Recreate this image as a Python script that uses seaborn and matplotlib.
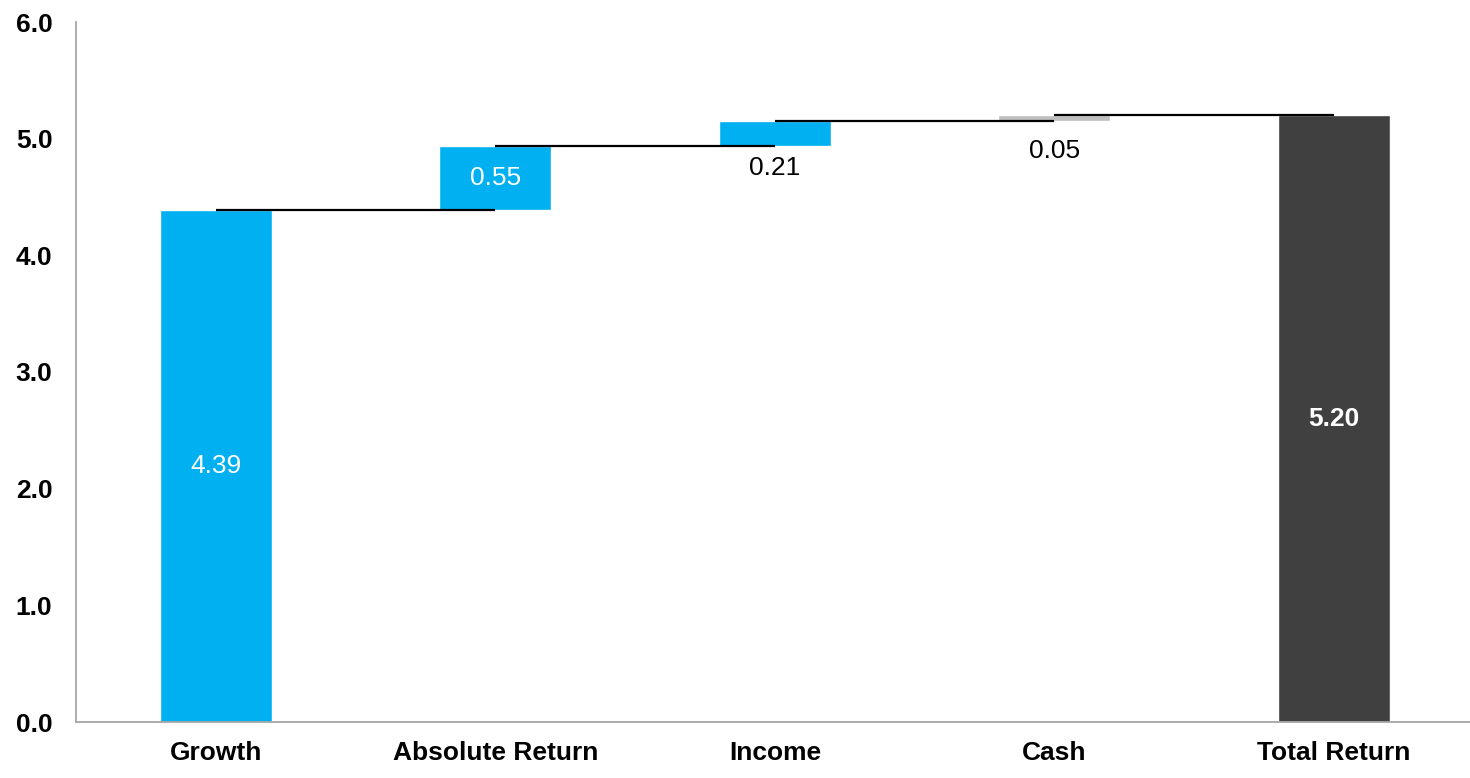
import matplotlib
matplotlib.use("Agg")
import matplotlib.pyplot as plt
import seaborn as sns
import numpy as np

# Contribution to total return by asset class
categories = ["Growth", "Absolute Return", "Income", "Cash", "Total Return"]
contributions = [4.39, 0.55, 0.21, 0.05]
total_return = 5.20
label_texts = ["4.39", "0.55", "0.21", "0.05", "5.20"]

BLUE = "#00B0F0"
GREY = "#BFBFBF"
DARK = "#404040"

sns.set_theme(style="white")
plt.rcParams["font.family"] = ["Liberation Sans", "DejaVu Sans"]

fig = plt.figure(figsize=(14.7, 7.78), dpi=100)
ax = fig.add_axes([76 / 1470, 1 - 722 / 778, 1 - 76 / 1470, (722 - 22) / 778])

bases = [0.0] + list(np.cumsum(contributions)[:-1])
heights = contributions + [total_return]
bottoms = bases + [0.0]
colors = [BLUE, BLUE, BLUE, GREY, DARK]

for cat, h, b, c in zip(categories, heights, bottoms, colors):
    sns.barplot(x=[cat], y=[h], order=categories, color=c, bottom=b,
                width=0.4, errorbar=None, saturation=1, ax=ax, zorder=2)

# Connectors between consecutive bar tops
tops = [b + h for b, h in zip(bottoms, heights)]
for i in range(len(categories) - 1):
    ax.hlines(tops[i], i, i + 1, color="black", lw=1.6, zorder=3)

# Value labels
label_style = [
    dict(pos="mid", color="white", weight="normal"),
    dict(pos="mid", color="white", weight="normal"),
    dict(pos="below", color="black", weight="normal", off=-22),
    dict(pos="below", color="black", weight="normal", off=-30),
    dict(pos="mid", color="white", weight="bold"),
]
for i, (txt, b, h, st) in enumerate(zip(label_texts, bottoms, heights, label_style)):
    if st["pos"] == "mid":
        ax.text(i, b + h / 2, txt, ha="center", va="center", color=st["color"],
                fontsize=19, fontweight=st["weight"], zorder=4)
    else:
        ax.annotate(txt, (i, b), xytext=(0, st["off"]), textcoords="offset pixels",
                    ha="center", va="center", color=st["color"], fontsize=19,
                    fontweight=st["weight"], zorder=4)

ax.set_ylim(0, 6)
ax.set_xlim(-0.5, 4.487)
ax.set_yticks(np.arange(0, 6.01, 1.0))
ax.set_yticklabels([f"{v:.1f}" for v in np.arange(0, 6.01, 1.0)])
ax.set_xlabel("")
ax.set_ylabel("")
ax.tick_params(axis="both", length=0, labelsize=19)
ax.tick_params(axis="y", pad=17)
ax.tick_params(axis="x", pad=14)
for lab in ax.get_xticklabels() + ax.get_yticklabels():
    lab.set_fontweight("bold")
    lab.set_color("black")

for side in ["top", "right"]:
    ax.spines[side].set_visible(False)
for side in ["left", "bottom"]:
    ax.spines[side].set_color("#A6A6A6")
    ax.spines[side].set_linewidth(1.3)
ax.grid(False)

fig.savefig("out.png", dpi=100)
